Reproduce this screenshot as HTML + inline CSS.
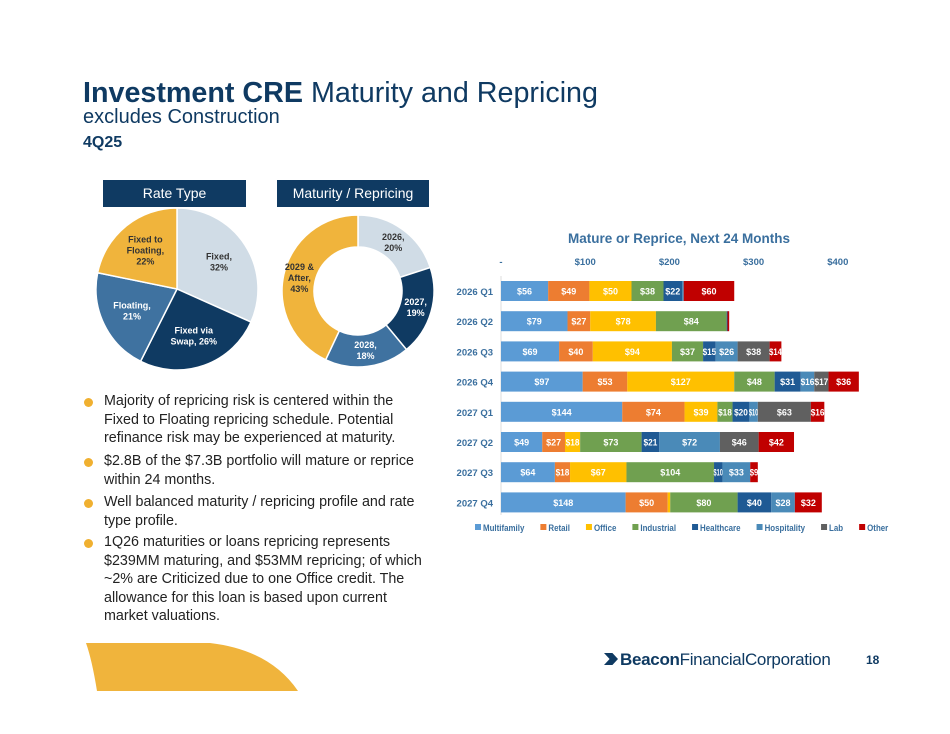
<!DOCTYPE html>
<html><head><meta charset="utf-8"><style>
body{margin:0;background:#fff;}
#page{position:relative;width:950px;height:734px;overflow:hidden;background:#fff;font-family:"Liberation Sans",Arial,sans-serif;}
.abs{position:absolute;}
.hdr{position:absolute;background:#0f3a62;color:#fff;font-size:14px;text-align:center;line-height:27px;height:27px;top:180px;}
.bul{position:absolute;left:104px;width:322px;font-size:14.3px;line-height:18.5px;color:#222;}
.dot{position:absolute;left:84px;width:9px;height:9px;border-radius:50%;background:#f0b030;}
</style></head><body>
<div id="page">
<div class="abs" style="left:83px;top:77px;font-size:28.7px;color:#0f3a62;white-space:nowrap"><b>Investment CRE</b> Maturity and Repricing</div>
<div class="abs" style="left:83px;top:106px;font-size:20px;color:#0f3a62">excludes Construction</div>
<div class="abs" style="left:83px;top:134px;font-size:16px;font-weight:bold;color:#0f3a62">4Q25</div>
<div class="hdr" style="left:103px;width:143px">Rate Type</div>
<div class="hdr" style="left:277px;width:152px">Maturity / Repricing</div>
<svg class="abs" style="left:0;top:0" width="950" height="734" id="pies"></svg>

<div class="dot" style="top:398px"></div>
<div class="bul" style="top:392px">Majority of repricing risk is centered within the Fixed to Floating repricing schedule. Potential refinance risk may be experienced at maturity.</div>
<div class="dot" style="top:458px"></div>
<div class="bul" style="top:452px">$2.8B of the $7.3B portfolio will mature or reprice within 24 months.</div>
<div class="dot" style="top:499px"></div>
<div class="bul" style="top:493px">Well balanced maturity / repricing profile and rate type profile.</div>
<div class="dot" style="top:539px"></div>
<div class="bul" style="top:533px;width:330px">1Q26 maturities or loans repricing represents $239MM maturing, and $53MM repricing; of which ~2% are Criticized due to one Office credit. The allowance for this loan is based upon current market valuations.</div>

<svg class="abs" style="left:0;top:0" width="950" height="734"><path d="M86 643 L210 643 Q270 650 298 691 L97 691 Q92 660 86 643 Z" fill="#f0b43c"/></svg>
<div class="abs" style="left:604px;top:650px;font-size:17px;color:#0f3a62;letter-spacing:-0.3px;white-space:nowrap"><span style="display:inline-block;width:14px;height:12px;background:#0f3a62;clip-path:polygon(0 0,60% 0,100% 50%,60% 100%,0 100%,40% 50%);margin-right:2px"></span><b>Beacon</b>FinancialCorporation</div>
<div class="abs" style="left:866px;top:653px;font-size:12px;font-weight:bold;color:#0f3a62">18</div>

<svg class="abs" style="left:0;top:0" width="950" height="734" id="bars"></svg>
</div>
<script>
const rateLabels=["Fixed,|32%","Fixed via|Swap, 26%","Floating,|21%","Fixed to|Floating,|22%"];
const rateValues=[32,26,21,22];
const matLabels=["2026,|20%","2027,|19%","2028,|18%","2029 &|After,|43%"];
const matValues=[20,19,18,43];
const pieColors=["#d0dce6","#0f3a62","#3f72a0","#f0b43c"];
const categories=["2026 Q1","2026 Q2","2026 Q3","2026 Q4","2027 Q1","2027 Q2","2027 Q3","2027 Q4"];
const seriesNames=["Multifamily","Retail","Office","Industrial","Healthcare","Hospitality","Lab","Other"];
const multifamily=[56,79,69,97,144,49,64,148];
const retail=[49,27,40,53,74,27,18,50];
const office=[50,78,94,127,39,18,67,3];
const industrial=[38,84,37,48,18,73,104,80];
const healthcare=[22,1,15,31,20,21,10,40];
const hospitality=[2,0,26,16,10,72,33,28];
const lab=[0,0,38,17,63,46,0,0];
const other=[60,2,14,36,16,42,9,32];
const xTicks=[0,100,200,300,400];
const xTickLabels=["-","$100","$200","$300","$400"];
const NS="http://www.w3.org/2000/svg";
const FF='Liberation Sans Narrow,Liberation Sans,sans-serif';
function mk(p,t,a){const e=document.createElementNS(NS,t);for(const k in a)e.setAttribute(k,a[k]);p.appendChild(e);return e;}
const pies=document.getElementById('pies');
function drawPie(cx,cy,r,ri,vals,labels,lr,nm){
  const tot=vals.reduce((a,b)=>a+b,0);let a0=-Math.PI/2;
  vals.forEach((v,i)=>{const a1=a0+v/tot*2*Math.PI;
    const p=(a,rr)=>[cx+rr*Math.cos(a),cy+rr*Math.sin(a)];
    const [x0,y0]=p(a0,r),[x1,y1]=p(a1,r);const lg=(a1-a0)>Math.PI?1:0;
    let d=`M${x0} ${y0} A${r} ${r} 0 ${lg} 1 ${x1} ${y1}`;
    if(ri>0){const [x2,y2]=p(a1,ri),[x3,y3]=p(a0,ri);d+=` L${x2} ${y2} A${ri} ${ri} 0 ${lg} 0 ${x3} ${y3} Z`;}else d+=` L${cx} ${cy} Z`;
    const s=mk(pies,'path',{d:d,fill:pieColors[i],stroke:'#fff','stroke-width':1.5});
    
    
    const am=(a0+a1)/2;const [lx,ly]=p(am,lr);const ls=labels[i].split('|');
    ls.forEach((t,j)=>{const tx=mk(pies,'text',{x:lx,y:ly+(j-(ls.length-1)/2)*11+3,'text-anchor':'middle','font-size':9,'font-weight':'bold',fill:(i==1||i==2)?'#fff':'#333','font-family':'Liberation Sans,sans-serif'});tx.textContent=t;});
    a0=a1;});
}
drawPie(177,289,81,0,rateValues,rateLabels,50,'rate-type');
drawPie(358,291,76,44,matValues,matLabels,60,'maturity');
const svg=document.getElementById('bars');
const colors=["#5b9bd5","#ed7d31","#ffc000","#70a050","#1f5a94","#4a8ab8","#606060","#c00000"];
const series=[multifamily,retail,office,industrial,healthcare,hospitality,lab,other];
const x0=501,sc=0.842,rowY=i=>291+i*30.2,bh=20;
const xs=v=>x0+v*sc;
const t=mk(svg,'text',{x:679,y:243,'text-anchor':'middle','font-size':14,'font-weight':'bold',fill:'#3a6f9e','font-family':FF,textLength:222,lengthAdjust:'spacingAndGlyphs'});t.textContent='Mature or Reprice, Next 24 Months';

xTicks.forEach((v,i)=>{const e=mk(svg,'text',{x:xs(v),y:265,'text-anchor':'middle','font-size':9.5,'font-weight':'bold',fill:'#3a6f9e','font-family':FF});e.textContent=xTickLabels[i];
});
mk(svg,'line',{x1:x0,y1:276,x2:x0,y2:515,stroke:'#ddd'});
categories.forEach((c,i)=>{const y=rowY(i);
  const l=mk(svg,'text',{x:493,y:y+4,'text-anchor':'end','font-size':9.5,'font-weight':'bold',fill:'#3a6f9e','font-family':FF});l.textContent=c;
  
  let acc=0;series.forEach((s,k)=>{const v=s[i];if(v<=0)return;
    const r=mk(svg,'rect',{x:xs(acc),y:y-bh/2,width:v*sc,height:bh,fill:colors[k]});
    
    
    if(v>=9){const lab='$'+v;const a={x:xs(acc+v/2),y:y+3.5,'text-anchor':'middle','font-size':9,'font-weight':'bold',fill:'#fff','font-family':FF};
      if(v<22){a.textLength=Math.min(lab.length*4.6,v*sc+1);a.lengthAdjust='spacingAndGlyphs';}
      const tx=mk(svg,'text',a);tx.textContent=lab;}
    acc+=v;});
});
let lx=475;
seriesNames.forEach((n,k)=>{mk(svg,'rect',{x:lx,y:524,width:6,height:6,fill:colors[k]});
  const e=mk(svg,'text',{x:lx+8,y:531,'font-size':9,'font-weight':'bold',fill:'#3a6f9e','font-family':FF});e.textContent=n;
  
  const w=e.getComputedTextLength()*0.88;
  e.setAttribute('textLength',w);e.setAttribute('lengthAdjust','spacingAndGlyphs');
  lx+=w+24;});
</script>
</body></html>
